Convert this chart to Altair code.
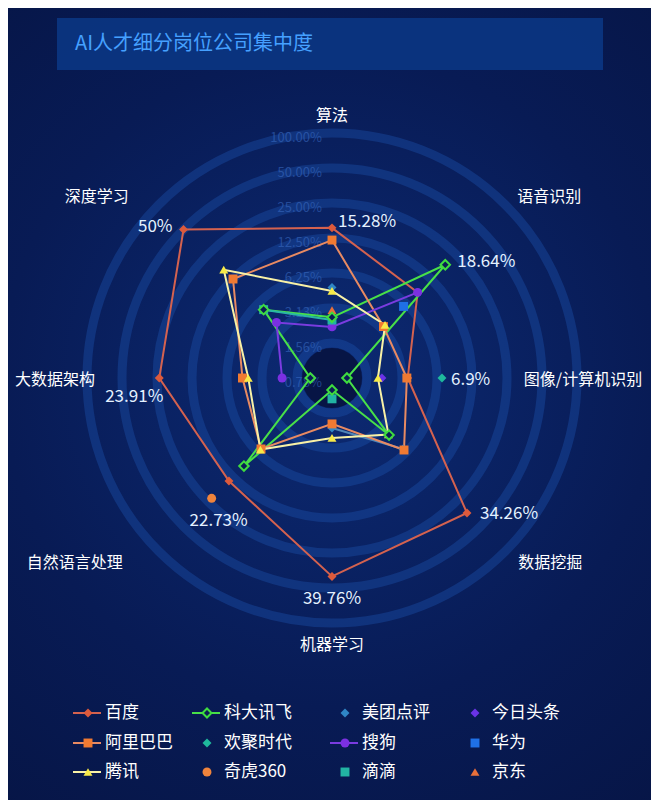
import math
import altair as alt
import pandas as pd

# ---------------- data ----------------
axes = ["算法", "语音识别", "图像/计算机识别", "数据挖掘", "机器学习", "自然语言处理", "大数据架构", "深度学习"]
companies = ["百度", "科大讯飞", "美团点评", "今日头条",
             "阿里巴巴", "欢聚时代", "搜狗", "华为",
             "腾讯", "奇虎360", "滴滴", "京东"]

baidu   = [15.28, 8.6, 3.5, 34.26, 39.76, 14.0, 23.91, 50.0]
iflytek = [2.6, 18.64, 1.05, 3.86, 0.99, 9.2, 1.2, 5.3]
meituan = [4.7, None, None, 5.7, 2.1, None, None, None]
toutiao = [None, None, 2.1, None, None, None, 1.16, None]
alibaba = [12.0, 3.3, 3.44, 5.87, 1.94, 5.7, 4.6, 12.5]
joyy    = [None, None, 6.9, None, None, None, None, None]
sogou   = [2.15, 8.6, None, None, None, None, 2.1, 3.7]
huawei  = [None, 5.8, None, None, None, None, None, None]
tencent = [4.38, 3.45, 1.94, 3.8, 2.56, 5.8, 4.1, 16.2]
qihoo   = [None, None, None, None, None, 22.73, None, None]
didi    = [2.46, None, None, None, 1.18, None, None, 5.3]
jd      = [3.0, None, None, None, None, None, None, None]

tick_labels = ["100.00%", "50.00%", "25.00%", "12.50%", "6.25%", "3.13%", "1.56%", "0.78%"]
tick_values = [100.0, 50.0, 25.0, 12.5, 6.25, 3.125, 1.5625, 0.78125]

series_values = dict(zip(companies, [baidu, iflytek, meituan, toutiao, alibaba, joyy,
                                     sogou, huawei, tencent, qihoo, didi, jd]))

# ---------------- styles ----------------
colors = ["#dc5a3c", "#3fdc3f", "#2f86c6", "#6a33e6",
          "#f07a32", "#1fb99c", "#7b30e2", "#1f70e6",
          "#f7ea48", "#f0843c", "#22b3a3", "#e8703a"]
shapes = ["diamond", "diamond", "diamond", "diamond",
          "square", "diamond", "circle", "square",
          "triangle-up", "circle", "square", "triangle-up"]
sizes = [80, 80, 80, 80, 100, 80, 120, 90, 170, 120, 90, 120]
line_colors = {"百度": "#d4624f", "科大讯飞": "#48e048", "美团点评": "#4f86b8",
               "阿里巴巴": "#e88a62", "搜狗": "#7a3ce0", "腾讯": "#f8f1a6",
               "滴滴": "#2ab5a6"}
legend_line_series = ["百度", "科大讯飞", "阿里巴巴", "搜狗", "腾讯"]
FONT = "Noto Sans CJK SC"
W, H = 643, 792
CX, CY = 324, 370          # centre of the radar in chart pixels
STEP = 35                  # pixels per doubling (log2 radial scale)
BASE = 0.78125
LEG_COLS = [80, 199, 337, 467]   # legend symbol centres (chart px)
LEG_ROWS = [705, 735, 764]

XS = alt.Scale(domain=[-CX, W - CX], nice=False, zero=False)
YS = alt.Scale(domain=[CY - H, CY], nice=False, zero=False)
CSCALE = alt.Scale(domain=companies, range=colors)
SSCALE = alt.Scale(domain=companies, range=shapes)
ZSCALE = alt.Scale(domain=companies, range=sizes)


def X(f="x"):
    return alt.X(f"{f}:Q", scale=XS, axis=None)


def Y(f="y"):
    return alt.Y(f"{f}:Q", scale=YS, axis=None)


def radius(v):
    return max(0.0, STEP * math.log2(v / BASE))


def pos(v, i):
    r = radius(v)
    a = math.radians(45 * i)
    return r * math.sin(a), r * math.cos(a)


# points
prow = []
for s in companies:
    for i, v in enumerate(series_values[s]):
        if v is not None:
            x, y = pos(v, i)
            prow.append({"series": s, "axis": axes[i], "value": v, "x": x, "y": y})
points = pd.DataFrame(prow)


# line runs (consecutive non-null values, closed when complete)
def runs(vals):
    n = len(vals)
    if all(v is not None for v in vals):
        return [list(range(n)) + [0]]
    start = next(i for i in range(n) if vals[i] is None)
    out, cur = [], []
    for k in range(1, n + 1):
        i = (start + k) % n
        if vals[i] is None:
            if len(cur) > 1:
                out.append(cur)
            cur = []
        else:
            cur.append(i)
    if len(cur) > 1:
        out.append(cur)
    return out


lrow = []
for s in companies:
    vals = series_values[s]
    for si, run in enumerate(runs(vals)):
        for o, i in enumerate(run):
            x, y = pos(vals[i], i)
            lrow.append({"series": s, "seg": f"{s}-{si}", "order": o, "x": x, "y": y,
                         "lc": line_colors.get(s, "#888888")})
lines = pd.DataFrame(lrow)

# rings
rings = pd.DataFrame({"x": [0.0] * 7, "y": [0.0] * 7,
                      "size": [(2 * STEP * k) ** 2 for k in range(1, 8)]})
centre = pd.DataFrame({"x": [0.0], "y": [0.0], "size": [(2 * 30) ** 2]})

# radial tick labels (along the top axis)
ticks = pd.DataFrame({"label": tick_labels,
                      "x": [-10.0] * len(tick_labels),
                      "y": [radius(v) - 5 for v in tick_values]})

# axis names
name_off = {"算法": (0, 0), "语音识别": (32, 4), "图像/计算机识别": (-11, 2), "数据挖掘": (33, 0),
            "机器学习": (0, 5), "自然语言处理": (-72, 0), "大数据架构": (-15, 2), "深度学习": (-50, 4)}
nrow = []
for i, a in enumerate(axes):
    ang = math.radians(45 * i)
    dx, dy = name_off[a]
    nrow.append({"name": a, "x": 262 * math.sin(ang) + dx, "y": 262 * math.cos(ang) - dy})
names = pd.DataFrame(nrow)

# max value labels per axis
lab_style = {"算法": ("left", 6, -6), "语音识别": ("left", 12, -3), "图像/计算机识别": ("left", 9, 2),
             "数据挖掘": ("left", 13, 1), "机器学习": ("center", 0, 23), "自然语言处理": ("center", 7, 23),
             "大数据架构": ("center", -25, 19), "深度学习": ("right", -11, -3)}
vrow = []
for i, a in enumerate(axes):
    best = max((series_values[s][i] for s in companies if series_values[s][i] is not None))
    x, y = pos(best, i)
    al, dx, dy = lab_style[a]
    vrow.append({"text": f"{best:g}%", "x": x + dx, "y": y - dy, "align": al})
vlabels = pd.DataFrame(vrow)

# legend table (4 columns x 3 rows, row-major like the original)
grow = []
for k, s in enumerate(companies):
    px, py = LEG_COLS[k % 4], LEG_ROWS[k // 4]
    grow.append({"series": s, "x": px - CX, "y": CY - py, "xl0": px - CX - 15, "xl1": px - CX + 13,
                 "xt": px - CX + 15, "lc": line_colors.get(s, "#888888"),
                 "has_line": s in legend_line_series})
leg = pd.DataFrame(grow)

one = pd.DataFrame({"k": [0]})

# ---------------- layers ----------------
bg = alt.Chart(one).mark_rect(
    color=alt.RadialGradient(gradient="radial",
                             stops=[alt.GradientStop(color="#0c2a73", offset=0),
                                    alt.GradientStop(color="#081b55", offset=0.55),
                                    alt.GradientStop(color="#061443", offset=1)],
                             x1=0.5, y1=0.47, x2=0.5, y2=0.47, r1=0, r2=0.75)
).encode(x=alt.value(0), x2=alt.value(W), y=alt.value(0), y2=alt.value(H))

title_bar = alt.Chart(one).mark_rect(color="#0b3683", opacity=0.9).encode(
    x=alt.value(49), x2=alt.value(595), y=alt.value(10), y2=alt.value(62))
title_txt = alt.Chart(one).mark_text(
    text="AI人才细分岗位公司集中度", font=FONT, fontSize=20, color="#45a0ff",
    align="left", baseline="middle").encode(x=alt.value(67), y=alt.value(36))

ring_layer = alt.Chart(rings).mark_point(
    shape="circle", filled=False, stroke="#1c52ad", strokeWidth=9, opacity=0.4
).encode(x=X(), y=Y(), size=alt.Size("size:Q", scale=None))
centre_layer = alt.Chart(centre).mark_point(
    shape="circle", filled=True, fill="#050d33", opacity=0.7, strokeWidth=0
).encode(x=X(), y=Y(), size=alt.Size("size:Q", scale=None))

tick_layer = alt.Chart(ticks).mark_text(
    font=FONT, fontSize=13, color="#3b6cc4", opacity=0.55, align="right", baseline="middle"
).encode(x=X(), y=Y(), text="label:N")

name_layer = alt.Chart(names).mark_text(
    font=FONT, fontSize=16, color="#ffffff", align="center", baseline="middle"
).encode(x=X(), y=Y(), text="name:N")

line_layer = alt.Chart(lines).mark_line(strokeWidth=2).encode(
    x=X(), y=Y(), detail="seg:N", order="order:Q", stroke=alt.Stroke("lc:N", scale=None))

point_layer = alt.Chart(points).mark_point(filled=True, opacity=1, strokeWidth=0).encode(
    x=X(), y=Y(),
    color=alt.Color("series:N", scale=CSCALE, legend=None),
    shape=alt.Shape("series:N", scale=SSCALE, legend=None),
    size=alt.Size("series:N", scale=ZSCALE, legend=None))

hollow_layer = alt.Chart(points[points["series"] == "科大讯飞"]).mark_point(
    shape="diamond", filled=False, fill="#0a1d55", fillOpacity=1, stroke="#3fdc3f",
    strokeWidth=2, size=90, opacity=1
).encode(x=X(), y=Y())

val_layers = []
for al in ["left", "center", "right"]:
    sub = vlabels[vlabels["align"] == al]
    val_layers.append(alt.Chart(sub).mark_text(
        font=FONT, fontSize=17, color="#e4f1ff", align=al, baseline="middle"
    ).encode(x=X(), y=Y(), text="text:N"))

# legend layers
leg_lines = alt.Chart(leg[leg["has_line"]]).mark_rule(strokeWidth=2).encode(
    x=X("xl0"), x2="xl1:Q", y=Y(), stroke=alt.Stroke("lc:N", scale=None))
leg_syms = alt.Chart(leg).mark_point(filled=True, opacity=1, strokeWidth=0).encode(
    x=X(), y=Y(),
    color=alt.Color("series:N", scale=CSCALE, legend=None),
    shape=alt.Shape("series:N", scale=SSCALE, legend=None),
    size=alt.Size("series:N", scale=ZSCALE, legend=None))
leg_hollow = alt.Chart(leg[leg["series"] == "科大讯飞"]).mark_point(
    shape="diamond", filled=False, fill="#0a1d55", fillOpacity=1, stroke="#3fdc3f",
    strokeWidth=2, size=80, opacity=1).encode(x=X(), y=Y())
leg_text = alt.Chart(leg).mark_text(
    font=FONT, fontSize=17, color="#ffffff", align="left", baseline="middle", dx=2
).encode(x=X("xt"), y=Y(), text="series:N")

chart = alt.layer(bg, title_bar, title_txt, centre_layer, ring_layer, tick_layer, name_layer,
                  line_layer, point_layer, hollow_layer, *val_layers,
                  leg_lines, leg_syms, leg_hollow, leg_text).properties(
    width=W, height=H, autosize="none", padding=0, background="#071650"
).configure_view(strokeWidth=0)

chart.save("out.html", embed_options={"renderer": "svg", "actions": False})
